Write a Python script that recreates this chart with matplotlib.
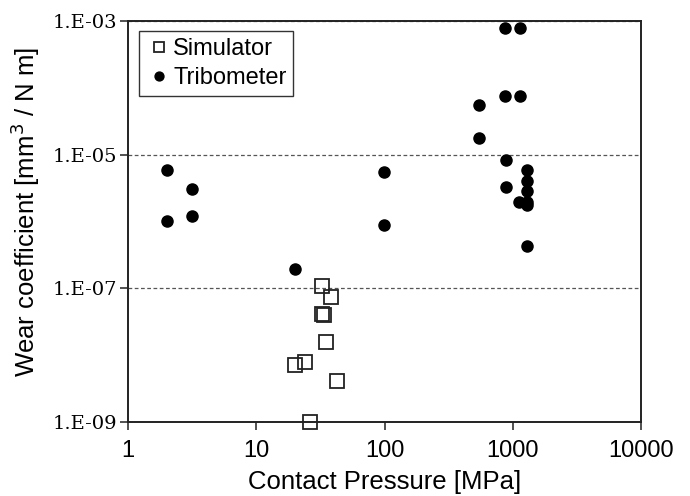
import matplotlib
matplotlib.use("Agg")
import matplotlib.pyplot as plt
from matplotlib.ticker import FixedLocator, FixedFormatter, NullLocator

# Data
sim_pressure = [32.7, 38, 32.7, 33.8, 34.8, 24.0, 20.2, 42.4, 26.3]
sim_wear = [1.07e-7, 7.5e-8, 4.2e-8, 3.95e-8, 1.6e-8, 7.9e-9, 7.05e-9, 4.06e-9, 1.0e-9]

tri_pressure = [2.02, 3.14, 2.02, 3.14, 20.0, 98.5, 98.5,
                548, 548, 870, 1140, 870, 1140, 881, 881,
                1300, 1300, 1300, 1300, 1300, 1120, 1300]
tri_wear = [5.9e-6, 3.03e-6, 1.03e-6, 1.21e-6, 1.97e-7, 5.5e-6, 8.9e-7,
            5.5e-5, 1.8e-5, 7.9e-4, 7.9e-4, 7.6e-5, 7.6e-5, 8.2e-6, 3.24e-6,
            5.9e-6, 4.0e-6, 2.9e-6, 1.98e-6, 1.75e-6, 1.98e-6, 4.3e-7]

x_ticks = [1, 10, 100, 1000, 10000]
x_tick_labels = ["1", "10", "100", "1000", "10000"]
y_ticks = [1e-9, 1e-7, 1e-5, 1e-3]
y_tick_labels = ["1.E-09", "1.E-07", "1.E-05", "1.E-03"]

sans = ["Liberation Sans", "DejaVu Sans"]
serif = ["DejaVu Serif"]

fig = plt.figure(figsize=(6.9, 4.96), dpi=100)
ax = fig.add_axes([0.1855, 0.1492, 0.929 - 0.1855, 0.9577 - 0.1492])

ax.set_xscale("log")
ax.set_yscale("log")
ax.set_xlim(1, 10000)
ax.set_ylim(1e-9, 1e-3)

ax.plot(sim_pressure, sim_wear, linestyle="none", marker="s", markersize=9.5,
        markerfacecolor="none", markeredgecolor="#222222", markeredgewidth=1.3,
        label="Simulator", clip_on=False, zorder=3)
ax.plot(tri_pressure, tri_wear, linestyle="none", marker="o", markersize=8,
        markerfacecolor="black", markeredgecolor="black",
        label="Tribometer", clip_on=False, zorder=3)

ax.xaxis.set_major_locator(FixedLocator(x_ticks))
ax.xaxis.set_major_formatter(FixedFormatter(x_tick_labels))
ax.xaxis.set_minor_locator(NullLocator())
ax.yaxis.set_major_locator(FixedLocator(y_ticks))
ax.yaxis.set_major_formatter(FixedFormatter(y_tick_labels))
ax.yaxis.set_minor_locator(NullLocator())

ax.tick_params(axis="both", direction="out", length=6, width=1.2, color="#333333")
ax.tick_params(axis="x", labelsize=17, pad=7)
ax.tick_params(axis="y", labelsize=14, pad=2)
for lbl in ax.get_xticklabels():
    lbl.set_fontfamily(sans)
for lbl in ax.get_yticklabels():
    lbl.set_fontfamily(serif)

for s in ax.spines.values():
    s.set_linewidth(1.4)
    s.set_color("#222222")

ax.yaxis.grid(True, linestyle=(0, (3, 2)), color="#555555", linewidth=0.9)
ax.set_axisbelow(True)

ax.set_xlabel("Contact Pressure [MPa]", fontsize=18.5, family=sans, labelpad=6)
ax.set_ylabel("Wear coefficient [mm$^3$ / N m]", fontsize=18.5, family=sans)
ax.yaxis.set_label_coords(-0.167, 0.525)

leg = ax.legend(loc="upper left", bbox_to_anchor=(0.021, 0.975), borderaxespad=0,
                frameon=True, fancybox=False, edgecolor="#333333", framealpha=1,
                prop={"family": sans, "size": 17}, handlelength=1.1,
                handletextpad=0.05, borderpad=0.3, labelspacing=0.3,
                markerscale=0.8)
leg.get_frame().set_linewidth(1.0)

fig.savefig("out.png", dpi=100)
